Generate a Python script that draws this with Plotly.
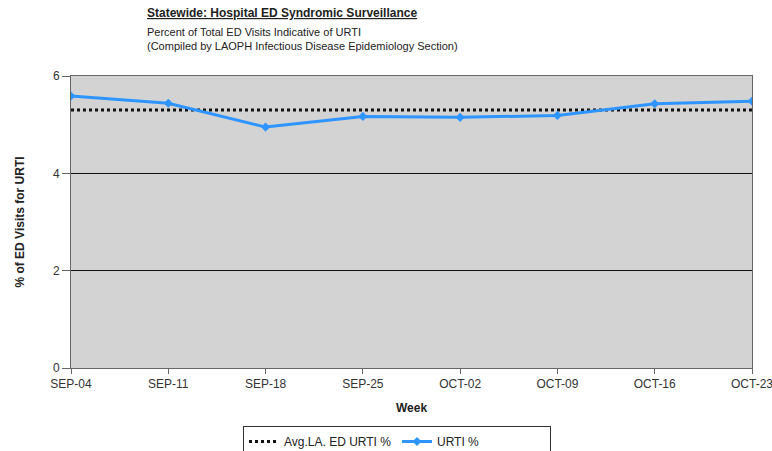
import plotly.graph_objects as go

weeks = ["SEP-04", "SEP-11", "SEP-18", "SEP-25", "OCT-02", "OCT-09", "OCT-16", "OCT-23"]
urti_pct = [5.59, 5.44, 4.95, 5.17, 5.15, 5.19, 5.43, 5.48]
avg_la_pct = [5.30] * len(weeks)

FONT = "Arial, Liberation Sans, sans-serif"

fig = go.Figure()
fig.add_trace(go.Scatter(
    x=weeks, y=avg_la_pct, mode="lines", name="Avg.LA. ED URTI %",
    line=dict(color="#111111", width=3, dash="dot"),
))
fig.add_trace(go.Scatter(
    x=weeks, y=urti_pct, mode="lines+markers", name="URTI %",
    line=dict(color="#2E94FF", width=3),
    marker=dict(symbol="diamond", size=7, color="#2E94FF"),
))

fig.update_layout(
    width=772, height=451,
    margin=dict(l=71, r=20, t=76, b=83, autoexpand=False),
    paper_bgcolor="white",
    plot_bgcolor="#D3D3D3",
    font=dict(family=FONT, size=12, color="#333333"),
    showlegend=True,
    legend=dict(
        orientation="h", xref="container", yref="container",
        x=243 / 772, xanchor="left", y=1 - 426 / 451, yanchor="top",
        bordercolor="#333333", borderwidth=1, bgcolor="white",
        entrywidth=108, entrywidthmode="pixels",
        font=dict(family=FONT, size=12, color="#222222"),
    ),
    xaxis=dict(
        type="category", range=[0, len(weeks) - 1], automargin=False,
        showgrid=False, zeroline=False,
        showline=True, linecolor="#666666", linewidth=1, mirror=True,
        ticks="outside", ticklen=5, tickcolor="#666666",
        tickfont=dict(family=FONT, size=12, color="#333333"),
        title=dict(text="<b>Week</b>", font=dict(family=FONT, size=12, color="#222222"), standoff=13),
    ),
    yaxis=dict(
        range=[0, 6], tickvals=[0, 2, 4, 6], automargin=False,
        showgrid=True, gridcolor="#111111", gridwidth=1,
        zeroline=False,
        showline=True, linecolor="#666666", linewidth=1, mirror=True,
        ticks="outside", ticklen=8, tickcolor="#666666",
        tickfont=dict(family=FONT, size=12, color="#333333"),
        title=dict(text="<b>% of ED Visits for URTI</b>", font=dict(family=FONT, size=12, color="#222222"), standoff=25),
    ),
    annotations=[
        dict(text="<u><b>Statewide: Hospital ED Syndromic Surveillance</b></u>",
             xref="paper", yref="paper", x=(145 - 71) / 681, y=1 + (76 - 13) / 292,
             xanchor="left", yanchor="middle", showarrow=False,
             font=dict(family=FONT, size=12, color="#222222")),
        dict(text="Percent of Total ED Visits Indicative of URTI<br>(Compiled by LAOPH Infectious Disease Epidemiology Section)",
             xref="paper", yref="paper", x=(145 - 71) / 681, y=1 + (76 - 39) / 292,
             xanchor="left", yanchor="middle", align="left", showarrow=False,
             font=dict(family=FONT, size=11, color="#222222")),
    ],
)

fig.write_html("out.html")
